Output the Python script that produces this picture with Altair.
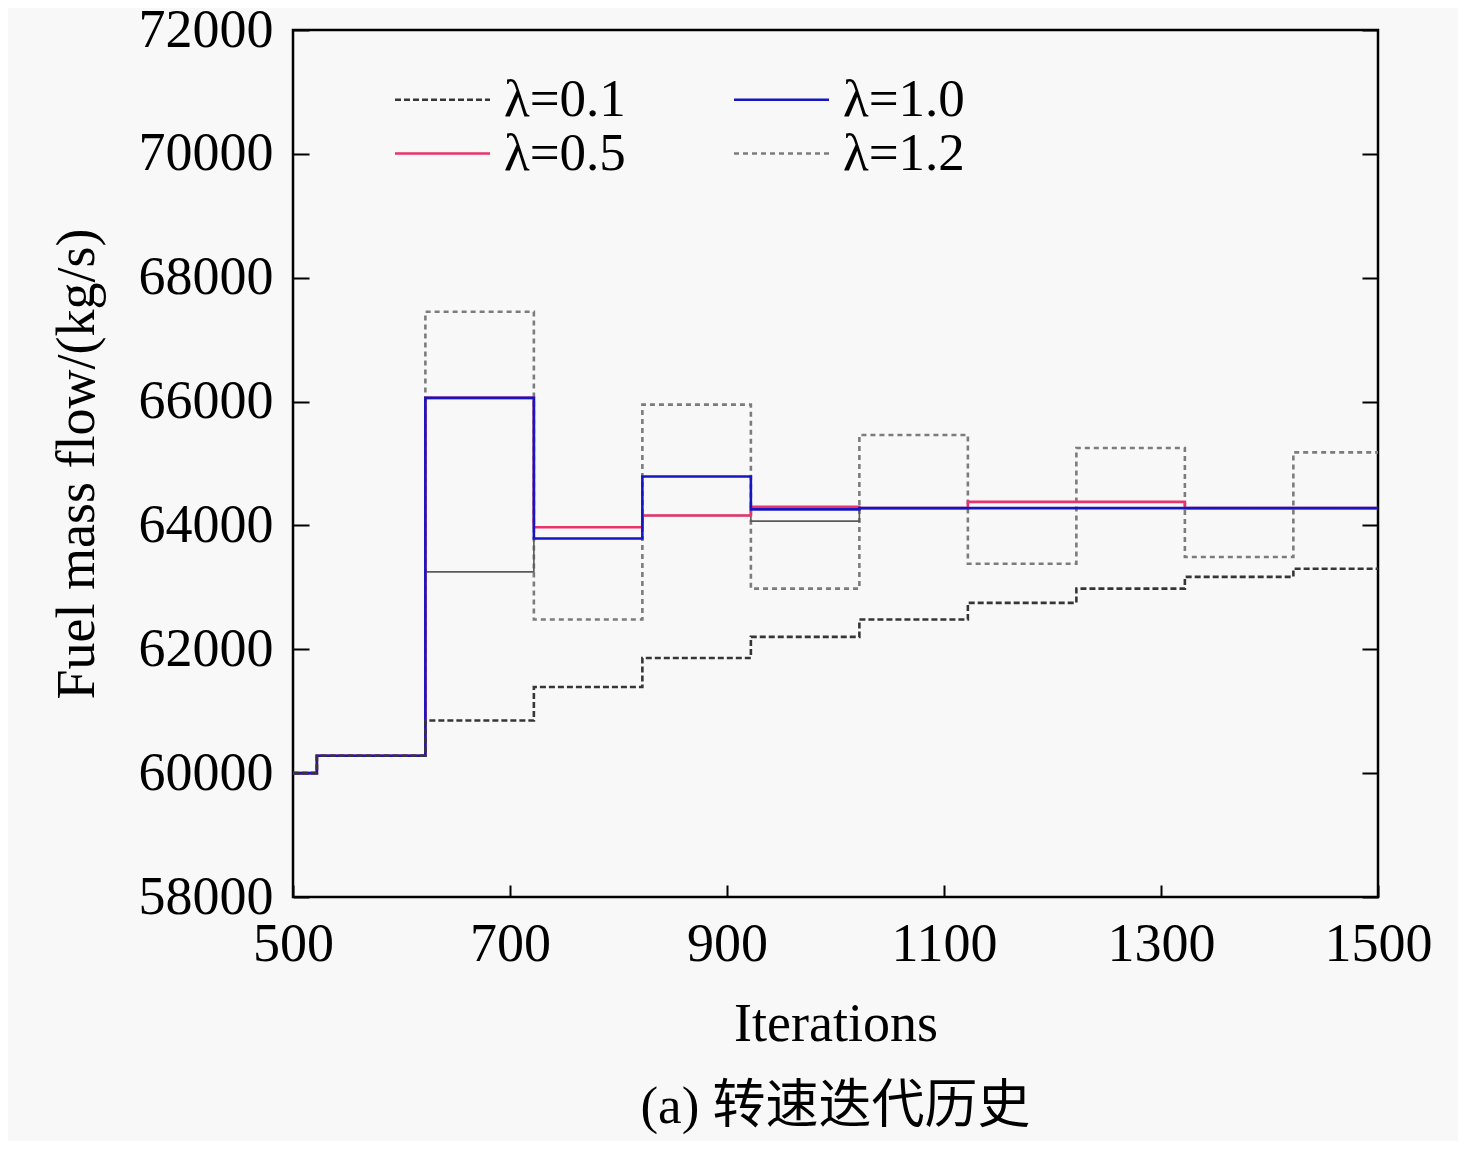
import altair as alt
import pandas as pd

# Step start positions (iterations) and the value held until the next start
starts = [500, 522, 622, 722, 822, 922, 1022, 1122, 1222, 1322, 1422, 1500]
lam01 = [60000, 60280, 60850, 61390, 61860, 62200, 62480, 62750, 62980, 63170, 63300, 63300]
lam05 = [60000, 60280, 66060, 63970, 64160, 64300, 64280, 64380, 64380, 64280, 64280, 64280]
lam10 = [60000, 60280, 66060, 63790, 64790, 64260, 64280, 64280, 64280, 64280, 64280, 64280]
lam12 = [60000, 60280, 67450, 62480, 65950, 62980, 65460, 63380, 65250, 63490, 65180, 65180]
other = [60000, 60280, 63250, 63970, 64160, 64070, 64280, 64380, 64380, 64280, 64280, 64280]

series_names = ["λ=0.1", "λ=0.5", "λ=1.0", "λ=1.2"]
series_vals = {"λ=0.1": lam01, "λ=1.0": lam10, "λ=0.5": lam05, "λ=1.2": lam12}
colors = ["#363636", "#e8336b", "#1616c0", "#7c7c7c"]
dashes = [[6, 3], [1, 0], [1, 0], [5, 4]]
widths = [2.6, 2.6, 3.0, 2.2]

x_ticks = [500, 700, 900, 1100, 1300, 1500]
y_ticks = [58000, 60000, 62000, 64000, 66000, 68000, 70000, 72000]

rows = []
for name in series_names:
    for it, v in zip(starts, series_vals[name]):
        rows.append({"it": it, "flow": v, "series": name})
df = pd.DataFrame(rows)
df_other = pd.DataFrame({"it": starts, "flow": other})

FONT = "Liberation Serif"
xsc = alt.Scale(domain=[500, 1500], nice=False, zero=False)
ysc = alt.Scale(domain=[58000, 72000], nice=False, zero=False)

x_enc = alt.X("it:Q", scale=xsc, axis=alt.Axis(
    values=x_ticks, format="d", title="Iterations", offset=-12, tickSize=12, tickWidth=2,
    tickColor="black", labelPadding=20, titlePadding=26, domain=False, grid=False,
    labelFlush=False))
y_left = alt.Y("flow:Q", scale=ysc, axis=alt.Axis(
    values=y_ticks, format="d", title="Fuel mass flow/(kg/s)", offset=-16, tickSize=16,
    tickWidth=2, tickColor="black", labelPadding=20, titlePadding=34,
    domain=False, grid=False, labelFlush=False))
y_right = alt.Y("flow:Q", scale=ysc, axis=alt.Axis(
    values=y_ticks, orient="right", labels=False, labelExpr="''", title="", offset=-16,
    tickSize=16, tickWidth=2, tickColor="black", domain=False, grid=False))
y_none = alt.Y("flow:Q", scale=ysc, axis=None)

color = alt.Color("series:N", scale=alt.Scale(domain=series_names, range=colors),
                  legend=alt.Legend(title=None, orient="none", legendX=123, legendY=43,
                                    values=series_names,
                                    columns=2, columnPadding=102, rowPadding=0,
                                    symbolType="M-2,0H2", symbolSize=2256,
                                    labelFont=FONT, labelFontSize=53,
                                    labelOffset=35, labelColor="black"))
dash = alt.StrokeDash("series:N", scale=alt.Scale(domain=series_names, range=dashes), legend=None)
width = alt.StrokeWidth("series:N", scale=alt.Scale(domain=series_names, range=widths), legend=None)

def layer(names, yenc):
    return alt.Chart(df).mark_line(interpolate="step-after").encode(
        x=x_enc, y=yenc, color=color, strokeDash=dash, strokeWidth=width
    ).transform_filter(alt.FieldOneOfPredicate(field="series", oneOf=names))

l12 = layer(["λ=1.2"], y_right)
gray = alt.Chart(df_other).mark_line(interpolate="step-after", color="#5a5a5a", strokeWidth=1.6).encode(
    x=x_enc, y=y_none)
l05 = layer(["λ=0.5"], y_none)
l10 = layer(["λ=1.0"], y_none)
l01 = layer(["λ=0.1"], y_left)

chart = alt.layer(l12, gray, l05, l10, l01).resolve_axis(y="independent").resolve_legend(
    color="shared"
).properties(
    width=1085, height=867,
    autosize=alt.AutoSizeParams(type="none"),
    padding={"left": 285, "top": 22, "right": 80, "bottom": 244},
    background="#f8f8f8",
    title=alt.TitleParams(text="(a) 转速迭代历史", orient="bottom", anchor="middle",
                          font="Liberation Serif, Noto Sans CJK SC", fontSize=53,
                          fontWeight="normal", color="black", offset=30),
).configure_view(stroke="black", strokeWidth=2.5).configure_axis(
    labelFont=FONT, labelFontSize=54, labelColor="black",
    titleFont=FONT, titleFontSize=54, titleFontWeight="normal", titleColor="black"
)

chart.save("out.html", embed_options={"renderer": "svg", "actions": False})
